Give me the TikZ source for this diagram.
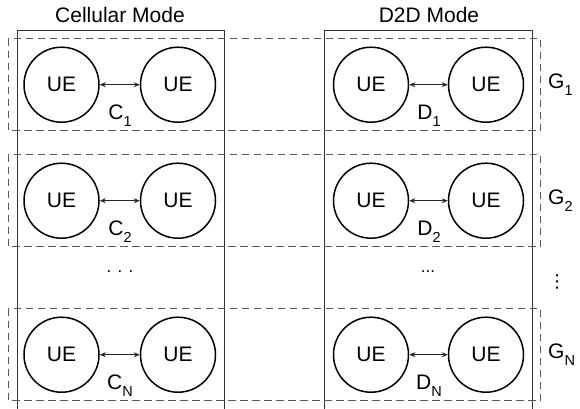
\documentclass[tikz,border=0pt]{standalone}
\usepackage{fontspec}
\setmainfont{Liberation Sans}
\newfontfamily\symfont{DejaVu Sans}
\usetikzlibrary{arrows.meta}
% letter with a lowered, smaller index
\newcommand{\withidx}[2]{#1\raisebox{-0.3em}{\fontsize{14.5}{14}\selectfont #2}}

\begin{document}
\begin{tikzpicture}[x=1pt,y=-1pt,
  ue/.style={circle, draw=black, line width=1.5pt, minimum size=75pt, inner sep=0pt,
             font=\fontsize{21}{24}\selectfont},
  link/.style={{Stealth[length=6pt,width=5pt]}-{Stealth[length=6pt,width=5pt]},
               line width=0.8pt, draw=black!85},
  column/.style={draw=black!80, line width=0.9pt},
  group/.style={draw=black!65, line width=1pt, dash pattern=on 7.5pt off 4.5pt},
  lbl/.style={font=\fontsize{21}{24}\selectfont, inner sep=0pt}
]
\useasboundingbox (0,0) rectangle (580,408);

% mode titles
\node[lbl] (tcell) at (120,15) {Cellular Mode};
\node[lbl] (td2d) at (429,15) {D2D Mode};

% mode columns, open at the bottom
\draw[column] (17,410) -- (17,30.7) -- (224.7,30.7) -- (224.7,410);
\draw[column] (324.3,410) -- (324.3,30.7) -- (532.3,30.7) -- (532.3,410);

% user groups
\foreach \y/\k in {84.7/1, 200.7/2, 354.7/N}{
  \draw[group] (8.3,\y-46) rectangle (540.7,\y+46);
  \node[ue] (c\k a) at (61.5,\y) {UE};
  \node[ue] (c\k b) at (178,\y) {UE};
  \node[ue] (d\k a) at (371,\y) {UE};
  \node[ue] (d\k b) at (486,\y) {UE};
  \draw[link] (c\k a) -- (c\k b);
  \draw[link] (d\k a) -- (d\k b);
  \node[lbl] (cl\k) at (120,\y+31) {\withidx{C}{\k}};
  \node[lbl] (dl\k) at (429,\y+31) {\withidx{D}{\k}};
  \node[lbl, anchor=west] (gl\k) at (548,\y) {\withidx{G}{\k}};
}

% omitted groups
\node[lbl, font=\fontsize{17}{20}\selectfont] (cdots) at (120,272) {. . .};
\node[lbl, font=\fontsize{17}{20}\selectfont] (ddots) at (428,272) {...};
\node[lbl, font=\symfont\fontsize{18}{20}\selectfont] (gdots) at (557,282) {⋮};
\end{tikzpicture}
\end{document}
